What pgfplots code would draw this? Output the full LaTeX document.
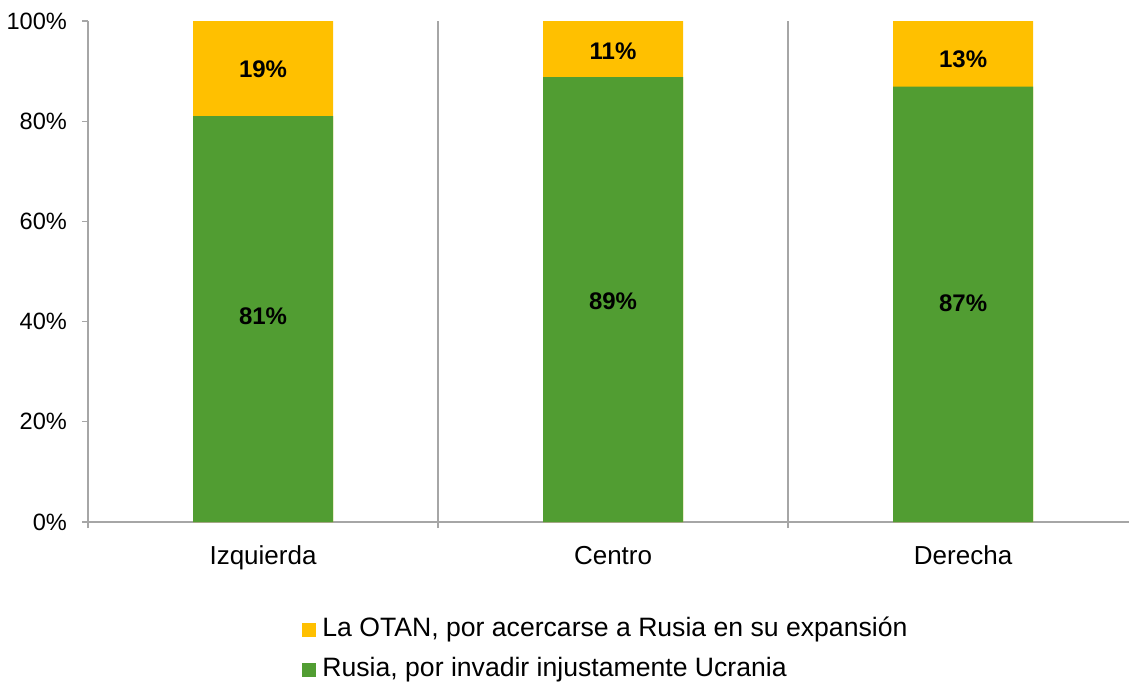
\documentclass[border=0pt]{standalone}
\usepackage{fontspec}
\setmainfont{Liberation Sans}
\usepackage{pgfplots}
\pgfplotsset{compat=1.18}
\definecolor{yc}{HTML}{FFC000}
\definecolor{gc}{HTML}{519D32}
\definecolor{axc}{HTML}{A6A6A6}
\begin{document}
\begin{tikzpicture}
\useasboundingbox (0,0) rectangle (564.5pt,341pt);
\begin{axis}[at={(44pt,80pt)}, anchor=south west, scale only axis,
 width=520.5pt, height=250.5pt,
 xmin=-0.5, xmax=2.474, ymin=0, ymax=100,
 axis lines*=left,
 axis line style={axc, line width=0.6pt},
 font=\fontsize{13}{15}\selectfont,
 /pgf/number format/assume math mode=true,
 ytick={0,20,40,60,80,100},
 yticklabel={\pgfmathprintnumber{\tick}\%},
 yticklabel style={xshift=-4pt, font=\fontsize{11.8}{14}\selectfont},
 ytick style={axc, line width=0.6pt},
 tick align=outside,
 major tick length=3pt,
 xtick={0,1,2},
 xticklabels={Izquierda,Centro,Derecha},
 xtick style={draw=none},
 xticklabel style={yshift=-5.5pt},
 extra x ticks={-0.5,0.5,1.5},
 extra x tick labels={},
 extra x tick style={grid=major, major grid style={axc, line width=0.6pt}, xtick style={draw=axc, line width=0.6pt}},
 legend style={at={(0.2056,-0.19)}, anchor=north west, draw=none, fill=none,
   inner sep=0pt, row sep=7.5pt,
   nodes={inner sep=0pt, text height=9.5pt, text depth=3pt, anchor=west},
   font=\fontsize{13.3}{15}\selectfont},
 legend cell align=left,
]
\addplot[ybar, bar width=70pt, bar shift=0pt, fill=yc, draw=none,
  legend image code/.code={\fill[yc] (0pt,-3.5pt) rectangle (7pt,3.5pt); \path (10pt,0pt);}]
  coordinates {(0,100) (1,100) (2,100)};
\addlegendentry{La OTAN, por acercarse a Rusia en su expansión}
\addplot[ybar, bar width=70pt, bar shift=0pt, fill=gc, draw=none,
  legend image code/.code={\fill[gc] (0pt,-3.5pt) rectangle (7pt,3.5pt); \path (10pt,0pt);}]
  coordinates {(0,81) (1,88.8) (2,86.9)};
\addlegendentry{Rusia, por invadir injustamente Ucrania}
\addplot[draw=none, mark=none, forget plot, point meta=explicit,
  nodes near coords={\pgfmathprintnumber{\pgfplotspointmeta}\%},
  nodes near coords style={anchor=center, font=\fontsize{12}{14}\selectfont\bfseries}]
  table[meta=v] {
x y v
0 41.1 81
1 44.1 89
2 43.6 87
0 90.3 19
1 94 11
2 92.3 13
};
\end{axis}
\end{tikzpicture}
\end{document}
